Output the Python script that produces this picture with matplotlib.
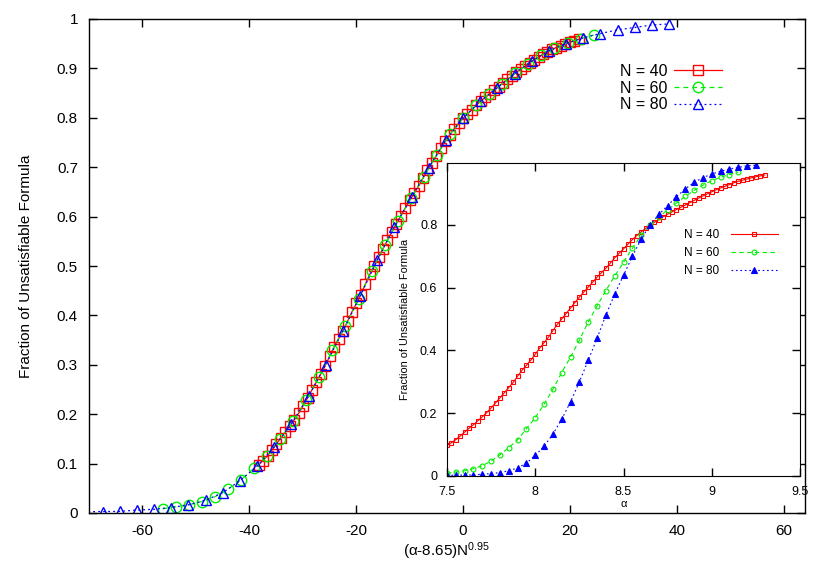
import numpy as np
import matplotlib
matplotlib.use('Agg')
import matplotlib.pyplot as plt

plt.rcParams['font.family'] = ['Liberation Sans', 'DejaVu Sans']
plt.rcParams['mathtext.fontset'] = 'custom'
plt.rcParams['mathtext.rm'] = 'Liberation Sans'
plt.rcParams['mathtext.it'] = 'Liberation Sans:italic'
plt.rcParams['axes.unicode_minus'] = False

# sampled clause densities alpha for each system size
alpha40 = np.round(np.arange(7.5, 9.3001, 0.025), 3)
alpha60 = np.round(np.arange(7.5, 9.1501, 0.05), 3)
alpha80 = np.round(np.arange(7.5, 9.2501, 0.05), 3)

# fraction of unsatisfiable formulas
y40 = [0.0975, 0.106, 0.1159, 0.1274, 0.1399, 0.1522, 0.1636, 0.176, 0.1885, 0.2019, 0.217, 0.2328, 0.249,
       0.2652, 0.2818, 0.2984, 0.3177, 0.3366, 0.3528, 0.369, 0.388, 0.4072, 0.4244, 0.4423, 0.4631, 0.4829,
       0.5001, 0.5175, 0.5352, 0.5526, 0.5697, 0.5859, 0.6017, 0.6173, 0.6329, 0.6476, 0.6617, 0.6777, 0.6948,
       0.7095, 0.7235, 0.7382, 0.753, 0.7657, 0.7777, 0.7886, 0.7992, 0.8081, 0.8168, 0.8256, 0.8341, 0.8414,
       0.8487, 0.8559, 0.8632, 0.8705, 0.8778, 0.8851, 0.8922, 0.8987, 0.9052, 0.9117, 0.9176, 0.923, 0.9284,
       0.9338, 0.9385, 0.9423, 0.946, 0.9498, 0.953, 0.956, 0.9589]
y60 = [0.0085, 0.0125, 0.0167, 0.0232, 0.0328, 0.0478, 0.0673, 0.0904, 0.115, 0.1504, 0.1858, 0.2283, 0.2762,
       0.3296, 0.3792, 0.4327, 0.4901, 0.5416, 0.5907, 0.6367, 0.6808, 0.7252, 0.7664, 0.7992, 0.8251, 0.8478,
       0.8692, 0.8906, 0.9097, 0.9264, 0.9407, 0.9516, 0.9603, 0.9676]
y80 = [0.002, 0.0025, 0.003, 0.0032, 0.006, 0.0075, 0.0111, 0.0165, 0.0257, 0.0411, 0.0653, 0.0946, 0.1334,
       0.1806, 0.2365, 0.2999, 0.3682, 0.4386, 0.5119, 0.5788, 0.6393, 0.6993, 0.755, 0.7992, 0.8331, 0.8612,
       0.8895, 0.9146, 0.9355, 0.9504, 0.9618, 0.9706, 0.978, 0.9829, 0.9879, 0.99]

sizes = [40, 60, 80]
labels = ['N = 40', 'N = 60', 'N = 80']
alpha_c = 8.65
nu = 0.95

main_xticks = [-60, -40, -20, 0, 20, 40, 60]
main_xticklabels = ['-60', '-40', '-20', '0', '20', '40', '60']
main_yticks = [0, 0.1, 0.2, 0.3, 0.4, 0.5, 0.6, 0.7, 0.8, 0.9, 1]
main_yticklabels = ['0', '0.1', '0.2', '0.3', '0.4', '0.5', '0.6', '0.7', '0.8', '0.9', '1']
inset_xticks = [7.5, 8, 8.5, 9, 9.5]
inset_xticklabels = ['7.5', '8', '8.5', '9', '9.5']
inset_yticks = [0, 0.2, 0.4, 0.6, 0.8]
inset_yticklabels = ['0', '0.2', '0.4', '0.6', '0.8']

colors = ['#ff0000', '#00ee00', '#0000ff']

fig = plt.figure(figsize=(8.3, 5.81), dpi=100)
ax = fig.add_axes([89/830, 1-513/581, (805-89)/830, (513-19)/581])

series = list(zip(sizes, [alpha40, alpha60, alpha80], [y40, y60, y80]))
mstyles = [dict(marker='s', ms=7.5, mfc='none'), dict(marker='o', ms=7.5, mfc='none'),
           dict(marker='^', ms=7, mfc='none')]
lstyles = ['-', (0, (4, 3)), (0, (1.5, 2.5))]
for (N, a, y), c, ms, ls, lab in zip(series, colors, mstyles, lstyles, labels):
    ax.plot((np.asarray(a) - alpha_c) * N**nu, y, color=c, lw=0.9, ls=ls, mec=c, mew=1.0,
            label=lab, **ms)

ax.set_xlim(-70, 64)
ax.set_ylim(0, 1)
ax.set_xticks(main_xticks)
ax.set_xticklabels(main_xticklabels)
ax.set_yticks(main_yticks)
ax.set_yticklabels(main_yticklabels)
ax.tick_params(direction='in', length=6, width=1, top=True, right=True, labelsize=11, pad=8)
for s in ax.spines.values():
    s.set_linewidth(1)
ax.set_xlabel('(α-8.65)N$^{\\mathrm{0.95}}$', fontsize=11, labelpad=1.5)
ax.set_ylabel('Fraction of Unsatisfiable Formula', fontsize=11, labelpad=17)
ax.legend(loc='upper right', bbox_to_anchor=(722/830, 1-64/581), bbox_transform=fig.transFigure,
          frameon=False, markerfirst=False, handlelength=3.0, handletextpad=0.4, labelspacing=0.1,
          fontsize=11.5, borderpad=0, borderaxespad=0, numpoints=1)

# inset with the unscaled curves
ax2 = fig.add_axes([447/830, 1-476/581, (800-447)/830, (476-163)/581])
ax2.set_facecolor('white')
imstyles = [dict(marker='s', ms=3.5, mfc='none'), dict(marker='o', ms=3.5, mfc='none'),
            dict(marker='^', ms=4, mfc='#0000ff')]
for (N, a, y), c, ms, ls, lab in zip(series, colors, imstyles, lstyles, labels):
    ax2.plot(a, y, color=c, lw=0.8, ls=ls, mec=c, mew=0.8, label=lab, **ms)
ax2.set_xlim(7.5, 9.5)
ax2.set_ylim(0, 0.997)
ax2.set_xticks(inset_xticks)
ax2.set_xticklabels(inset_xticklabels)
ax2.set_yticks(inset_yticks)
ax2.set_yticklabels(inset_yticklabels)
ax2.tick_params(direction='in', length=6, width=1, top=True, right=True, labelsize=9, pad=7)
ax2.set_xlabel('α', fontsize=8, labelpad=1.0)
ax2.set_ylabel('Fraction of Unsatisfiable Formula', fontsize=7.8, labelpad=7)
ax2.legend(loc='upper right', bbox_to_anchor=(778/830, 1-229/581), bbox_transform=fig.transFigure,
           frameon=False, markerfirst=False, handlelength=4.0, handletextpad=1.0, labelspacing=0.5,
           fontsize=8.5, borderpad=0, borderaxespad=0, numpoints=1)

fig.savefig('out.png', dpi=100)
